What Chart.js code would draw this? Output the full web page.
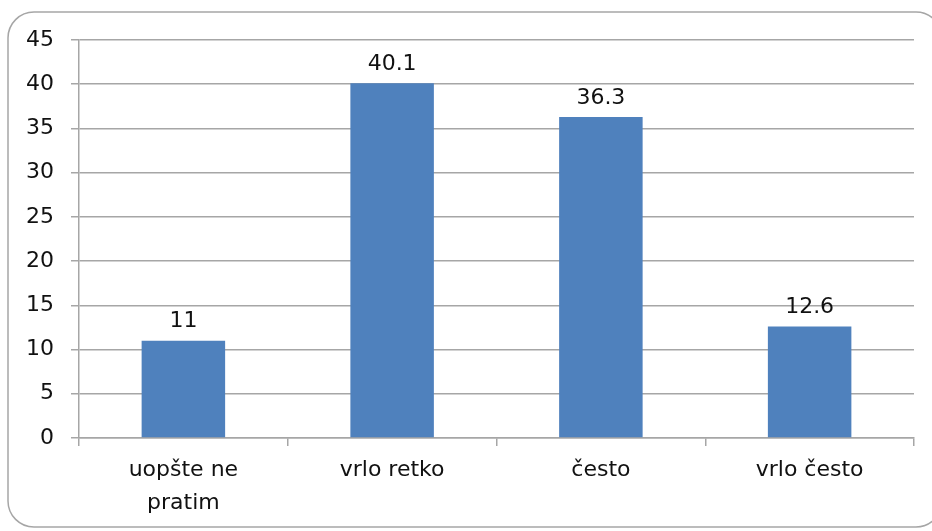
<!DOCTYPE html>
<html>
<head>
<meta charset="utf-8">
<script src="https://cdn.jsdelivr.net/npm/chart.js@4/dist/chart.umd.min.js"></script>
<style>
html,body{margin:0;padding:0;background:#fff;}
#wrap{width:932px;height:531px;position:relative;}
</style>
</head>
<body>
<div id="wrap"><canvas id="c" width="932" height="531"></canvas></div>
<script>
const categories = [['uopšte ne','pratim'], 'vrlo retko', 'često', 'vrlo često'];
const values = [11, 40.1, 36.3, 12.6];
const valueLabels = ['11', '40.1', '36.3', '12.6'];
const yTicks = [0, 5, 10, 15, 20, 25, 30, 35, 40, 45];

const FONT = 'DejaVu Sans';

const framePlugin = {
  id: 'frame',
  beforeDraw(chart) {
    const ctx = chart.ctx;
    ctx.save();
    ctx.fillStyle = '#fff';
    ctx.fillRect(0, 0, chart.width, chart.height);
    ctx.strokeStyle = '#a6a6a6';
    ctx.lineWidth = 1.5;
    ctx.beginPath();
    ctx.roundRect(8, 12, 934, 515, 26);
    ctx.stroke();
    ctx.restore();
  }
};

const labelPlugin = {
  id: 'valueLabels',
  afterDatasetsDraw(chart) {
    const ctx = chart.ctx;
    const meta = chart.getDatasetMeta(0);
    ctx.save();
    ctx.font = '22px "' + FONT + '"';
    ctx.fillStyle = '#111';
    ctx.textAlign = 'center';
    ctx.textBaseline = 'bottom';
    meta.data.forEach((bar, i) => {
      ctx.fillText(valueLabels[i], bar.x, bar.y - 8);
    });
    ctx.restore();
  }
};

new Chart(document.getElementById('c'), {
  type: 'bar',
  data: {
    labels: categories,
    datasets: [{
      data: values,
      backgroundColor: '#4F81BD',
      borderWidth: 0,
      categoryPercentage: 1,
      barPercentage: 0.4
    }]
  },
  options: {
    responsive: false,
    animation: false,
    devicePixelRatio: 1,
    layout: { padding: { left: 0, right: 18, top: 40, bottom: 0 } },
    plugins: { legend: { display: false }, tooltip: { enabled: false } },
    scales: {
      x: {
        offset: true,
        grid: { offset: true, drawOnChartArea: false, drawTicks: true, tickLength: 8, color: '#a6a6a6', lineWidth: 1.5 },
        border: { display: true, color: '#a6a6a6', width: 1.5 },
        ticks: { color: '#111', font: { family: FONT, size: 22, lineHeight: 1.5 }, padding: 8, maxRotation: 0, autoSkip: false },
        afterFit(scale) { scale.height = 93; }
      },
      y: {
        min: 0, max: 45,
        afterBuildTicks(scale) { scale.ticks = yTicks.map(v => ({ value: v })); },
        grid: { color: '#a6a6a6', lineWidth: 1.5, tickLength: 8 },
        border: { display: true, color: '#a6a6a6', width: 1.5 },
        ticks: { color: '#111', font: { family: FONT, size: 22 }, padding: 17 },
        afterFit(scale) { scale.width = 79; }
      }
    }
  },
  plugins: [framePlugin, labelPlugin]
});
</script>
</body>
</html>
